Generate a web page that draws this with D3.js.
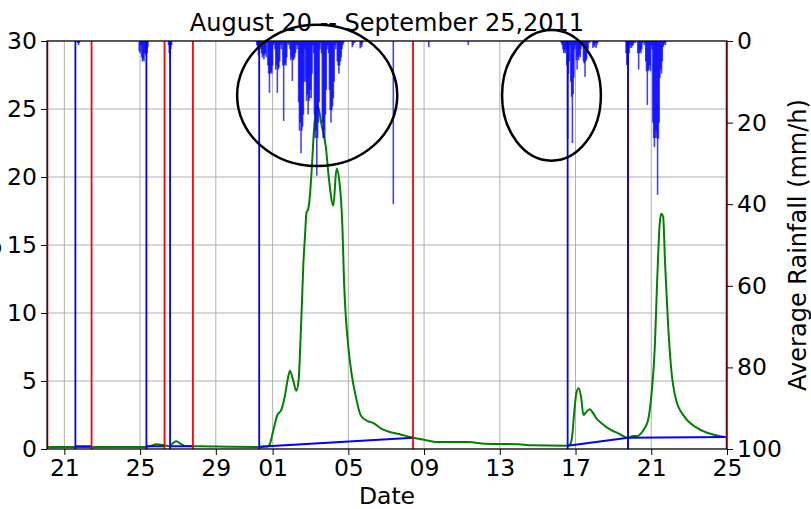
<!DOCTYPE html>
<html>
<head>
<meta charset="utf-8">
<script src="https://cdn.jsdelivr.net/npm/d3@7"></script>
<style>
  body { margin: 0; background: #fff; }
  text { font-family: "DejaVu Sans", sans-serif; fill: #000; }
</style>
</head>
<body>
<div id="chart"></div>
<script>
// discharge (left axis)
const discharge = [
  ["08-20 02:00",0.15],["08-22 21:00",0.15],["08-25 06:00",0.15],["08-25 12:00",0.2],["08-25 21:00",0.35],
  ["08-26 05:00",0.3],["08-26 13:00",0.2],["08-26 18:00",0.45],["08-26 22:00",0.57],["08-27 03:00",0.4],
  ["08-27 10:00",0.22],["08-28 03:00",0.2],["08-31 07:00",0.15],["08-31 17:00",0.18],["08-31 20:00",0.3],
  ["09-01 00:00",1.15],["09-01 06:00",2.5],["09-01 11:00",2.87],["09-01 15:00",3.73],["09-01 19:00",5.07],
  ["09-01 22:00",5.76],["09-02 02:00",5.07],["09-02 06:00",4.29],["09-02 09:00",5.07],["09-02 11:00",7.5],
  ["09-02 13:00",10.5],["09-02 15:00",13.65],["09-02 17:00",15.6],["09-02 19:00",17.4],["09-02 21:00",17.6],
  ["09-02 23:30",18.8],["09-03 02:00",21],["09-03 04:30",23.5],["09-03 08:00",25.2],["09-03 10:30",25.0],
  ["09-03 13:30",24.0],["09-03 19:30",22.2],["09-03 23:30",19.8],["09-04 05:00",17.9],["09-04 09:00",20.6],
  ["09-04 13:00",19.5],["09-04 16:30",16.3],["09-04 18:30",12.4],["09-04 20:30",10],["09-05 00:00",7.5],
  ["09-05 04:00",5.57],["09-05 09:30",3.85],["09-05 15:30",2.5],["09-05 22:00",2.13],["09-06 08:30",1.89],
  ["09-06 17:00",1.52],["09-07 03:30",1.27],["09-07 16:00",1.1],["09-08 10:00",0.83],["09-09 06:00",0.61],
  ["09-09 14:30",0.51],["09-11 08:30",0.51],["09-12 05:30",0.39],["09-13 23:30",0.35],["09-14 16:00",0.27],
  ["09-16 12:30",0.24],["09-16 16:30",0.3],["09-16 19:00",0.66],["09-16 23:00",3.1],["09-17 01:00",4.1],
  ["09-17 04:00",4.46],["09-17 07:00",3.85],["09-17 10:00",2.5],["09-17 14:00",2.74],["09-17 18:00",2.92],
  ["09-17 21:00",2.74],["09-18 02:30",2.26],["09-18 09:00",1.89],["09-18 17:30",1.52],["09-19 01:30",1.27],
  ["09-19 10:00",1.03],["09-19 18:30",0.83],["09-20 01:00",0.96],["09-20 07:00",0.96],["09-20 11:00",1.15],
  ["09-20 15:30",1.52],["09-20 20:00",2.13],["09-21 00:00",3.85],["09-21 04:30",7.5],["09-21 07:30",12.4],
  ["09-21 10:30",16.4],["09-21 12:30",17.3],["09-21 15:00",17.1],["09-21 17:30",13.65],["09-21 21:00",9.5],
  ["09-22 01:00",6.05],["09-22 07:30",3.6],["09-22 18:00",2.38],["09-23 11:00",1.52],["09-24 04:00",1.1],
  ["09-24 21:00",0.88]
];

// event start (blue) and end (red) markers
const eventStarts = ["08-21 14:00","08-25 08:00","08-26 14:00","08-31 07:00","09-16 14:00","09-19 18:30"];
const eventEnds = ["08-20 02:30","08-22 10:30","08-26 07:00","08-27 19:00","09-08 10:00","09-19 18:30","09-24 23:30"];

// baseflow separation lines [start, end]
const baseflow = [
  [["08-21 14:00",0.2],["08-22 10:30",0.2]],
  [["08-25 08:00",0.2],["08-26 07:00",0.2]],
  [["08-26 14:00",0.2],["08-27 19:00",0.2]],
  [["08-31 07:00",0.17],["09-08 10:00",0.83]],
  [["09-16 14:00",0.24],["09-19 18:30",0.83]],
  [["09-19 18:30",0.83],["09-24 23:30",0.88]]
];

// hourly rainfall (right axis, mm/h), one list per rain spell
const rainStarts = ["08-21 17:00","08-24 23:00","08-26 12:00","08-31 04:00","09-05 05:00","09-07 09:00",
                    "09-09 06:00","09-11 08:00","09-16 06:00","09-19 16:00"];
const rainValues = [
  [0.5,1,0.5],
  [2.5,3,1,4,5,4.5,5,3,3.5,2,3,1.5],
  [1,3,4,2,1],
  [1,2,3.5,2,1,2, 3,4,3.5,4.5,3.5,3,4, 0.5, 6,8,12.7,8,7.5,8,6, 1,0.5,2, 7,6,12.7,7,6.5,5, 1,2,0.5,
   6,19.6,6,5.5,6,4, 0.5,1,0.5,2, 4.7,4,9.8,4.7,4.5,4,3, 1,2,1, 15,22,20,27.5,22,21,18,10, 2,
   10,14.7,13,18,14.7,14,12,14,8, 1,3, 18,23.8,22,33,23.8,20,15, 2,0.5,3, 20,23.8,22,23.8,18,12,
   2,1,3, 12,17,20,17,16,14,10, 1,2,0.5, 5,6,8,6,5,4,2, 1,0.5],
  [1.5,1,0,0.5,0,0,0,0,0,0,1.8,1,1.5,0.5],
  [40],
  [1.5],
  [1],
  [0.5,1,2, 3,2.5,3,2, 6,24,8,5, 1, 10,13.7,25,13,9, 2,1, 4.7,7,4,4.7,3.5,4,2, 0.5,1,
   5,5.5,8.8,5,4.5,3,2, 0,0.5,0,0,0, 1.7,1,1.5,0.5,1.7,1,0.5],
  [3,5.9,3,2.5,3, 1.7,1,1.7,1.2,1,0.5, 0,0.5,0,0, 3,7,3,2.5,3,2, 0.5,0,1,0.5,
   5,7.4,15.7,7.4,7,6,7.4, 1,2, 20,23.8,26,23.8,22,23.8,37.7,24,20, 9,7,8,5, 1.5,1,0.5,1]
];

const xTicks = ["08-21 00:00","08-25 00:00","08-29 00:00","09-01 00:00","09-05 00:00",
                "09-09 00:00","09-13 00:00","09-17 00:00","09-21 00:00","09-25 00:00"];
const leftTicks = [0, 5, 10, 15, 20, 25, 30];
const rightTicks = [0, 20, 40, 60, 80, 100];

// hand-drawn circles: centre time, level, half-width in days, half-height in discharge units
const circleCentres = ["09-03 08:30", "09-15 17:30"];
const circleLevels = [26, 26];
const circleDays = [4.23, 2.61];
const circleHeights = [5.2, 4.8];

const parse = s => d3.timeParse("%Y-%m-%d %H:%M")("2011-" + s);

const W = 811, H = 509;
const margin = { top: 41, right: 84, bottom: 60, left: 47 };
const width = W - margin.left - margin.right;
const height = H - margin.top - margin.bottom;

const svg = d3.select("#chart").append("svg")
    .attr("width", W).attr("height", H);
const g = svg.append("g").attr("transform", `translate(${margin.left},${margin.top})`);

const x = d3.scaleTime().domain([parse("08-20 02:00"), parse("09-25 00:00")]).range([0, width]);
const yL = d3.scaleLinear().domain([0, 30]).range([height, 0]);
const yR = d3.scaleLinear().domain([0, 100]).range([0, height]);

svg.append("defs").append("clipPath").attr("id", "clip")
    .append("rect").attr("width", width).attr("height", height);

// grid
g.append("g").selectAll("line").data(xTicks).enter().append("line")
    .attr("x1", d => x(parse(d))).attr("x2", d => x(parse(d)))
    .attr("y1", 0).attr("y2", height)
    .attr("stroke", "#b0b0b0").attr("stroke-width", 1);
g.append("g").selectAll("line").data(leftTicks).enter().append("line")
    .attr("x1", 0).attr("x2", width)
    .attr("y1", d => yL(d)).attr("y2", d => yL(d))
    .attr("stroke", "#b0b0b0").attr("stroke-width", 1);

const plot = g.append("g").attr("clip-path", "url(#clip)");

// discharge curve
plot.append("path")
    .datum(discharge)
    .attr("fill", "none")
    .attr("stroke", "#008000")
    .attr("stroke-width", 2)
    .attr("d", d3.line().curve(d3.curveMonotoneX)
        .x(d => x(parse(d[0]))).y(d => yL(d[1])));

// baseflow lines
plot.selectAll(".base").data(baseflow).enter().append("path")
    .attr("fill", "none").attr("stroke", "#0000ff").attr("stroke-width", 2)
    .attr("d", d3.line().x(d => x(parse(d[0]))).y(d => yL(d[1])));

// event markers
plot.selectAll(".end").data(eventEnds).enter().append("line")
    .attr("x1", d => x(parse(d))).attr("x2", d => x(parse(d)))
    .attr("y1", 0).attr("y2", height)
    .attr("stroke", "#ff0000").attr("stroke-width", 1.8);
plot.selectAll(".start").data(eventStarts).enter().append("line")
    .attr("x1", d => x(parse(d))).attr("x2", d => x(parse(d)))
    .attr("y1", 0).attr("y2", height)
    .attr("stroke", "#0000ff").attr("stroke-width", 1.8);

// rainfall bars hanging from the top
const rain = [];
rainStarts.forEach((s, i) => {
  const t0 = parse(s);
  rainValues[i].forEach((v, k) => rain.push({ t: d3.timeHour.offset(t0, k), v: v }));
});
const hourPx = x(d3.timeHour.offset(parse("09-01 00:00"), 1)) - x(parse("09-01 00:00"));
plot.selectAll(".rain").data(rain.filter(d => d.v > 0)).enter().append("rect")
    .attr("x", d => x(d.t) - hourPx)
    .attr("y", yR(0))
    .attr("width", hourPx * 2)
    .attr("height", d => yR(d.v) - yR(0))
    .attr("fill", "#0000ff")
    .attr("fill-opacity", 0.75);

// annotation ellipses
g.selectAll(".circ").data(circleCentres).enter().append("ellipse")
    .attr("cx", d => x(parse(d)))
    .attr("cy", (d, i) => yL(circleLevels[i]))
    .attr("rx", (d, i) => x(d3.timeMinute.offset(parse(d), circleDays[i] * 1440)) - x(parse(d)))
    .attr("ry", (d, i) => yL(0) - yL(circleHeights[i]))
    .attr("fill", "none")
    .attr("stroke", "#000")
    .attr("stroke-width", 2.5);

// axes
const fs = "23.5px";
const xAxis = g.append("g").attr("transform", `translate(0,${height})`)
    .call(d3.axisBottom(x).tickValues(xTicks.map(parse)).tickFormat(d3.timeFormat("%d"))
        .tickSize(6).tickPadding(4));
const lAxis = g.append("g")
    .call(d3.axisLeft(yL).tickValues(leftTicks).tickSize(6).tickPadding(4));
const rAxis = g.append("g").attr("transform", `translate(${width},0)`)
    .call(d3.axisRight(yR).tickValues(rightTicks).tickSize(6).tickPadding(4));
[xAxis, lAxis, rAxis].forEach(a => {
  a.selectAll("text").style("font-size", fs).style("font-family", "DejaVu Sans");
  a.selectAll("line").attr("stroke", "#000");
  a.select(".domain").remove();
});

// frame
g.append("rect").attr("width", width).attr("height", height)
    .attr("fill", "none").attr("stroke", "#000").attr("stroke-width", 1.2);

// labels
svg.append("text")
    .attr("x", margin.left + width / 2).attr("y", 31)
    .attr("text-anchor", "middle").style("font-size", "24px")
    .text("August 20 -- September 25,2011");
svg.append("text")
    .attr("x", margin.left + width / 2).attr("y", 504)
    .attr("text-anchor", "middle").style("font-size", "23.5px")
    .text("Date");
svg.append("text")
    .attr("transform", `translate(806,${margin.top + height / 2}) rotate(-90)`)
    .attr("text-anchor", "middle").style("font-size", "24px")
    .text("Average Rainfall (mm/h)");
// left label sits mostly outside the canvas, as in the source figure
svg.append("text")
    .attr("transform", `translate(-4,${margin.top + height / 2}) rotate(-90)`)
    .attr("text-anchor", "middle").style("font-size", "24px")
    .text("Discharge (m³/s)");
</script>
</body>
</html>
